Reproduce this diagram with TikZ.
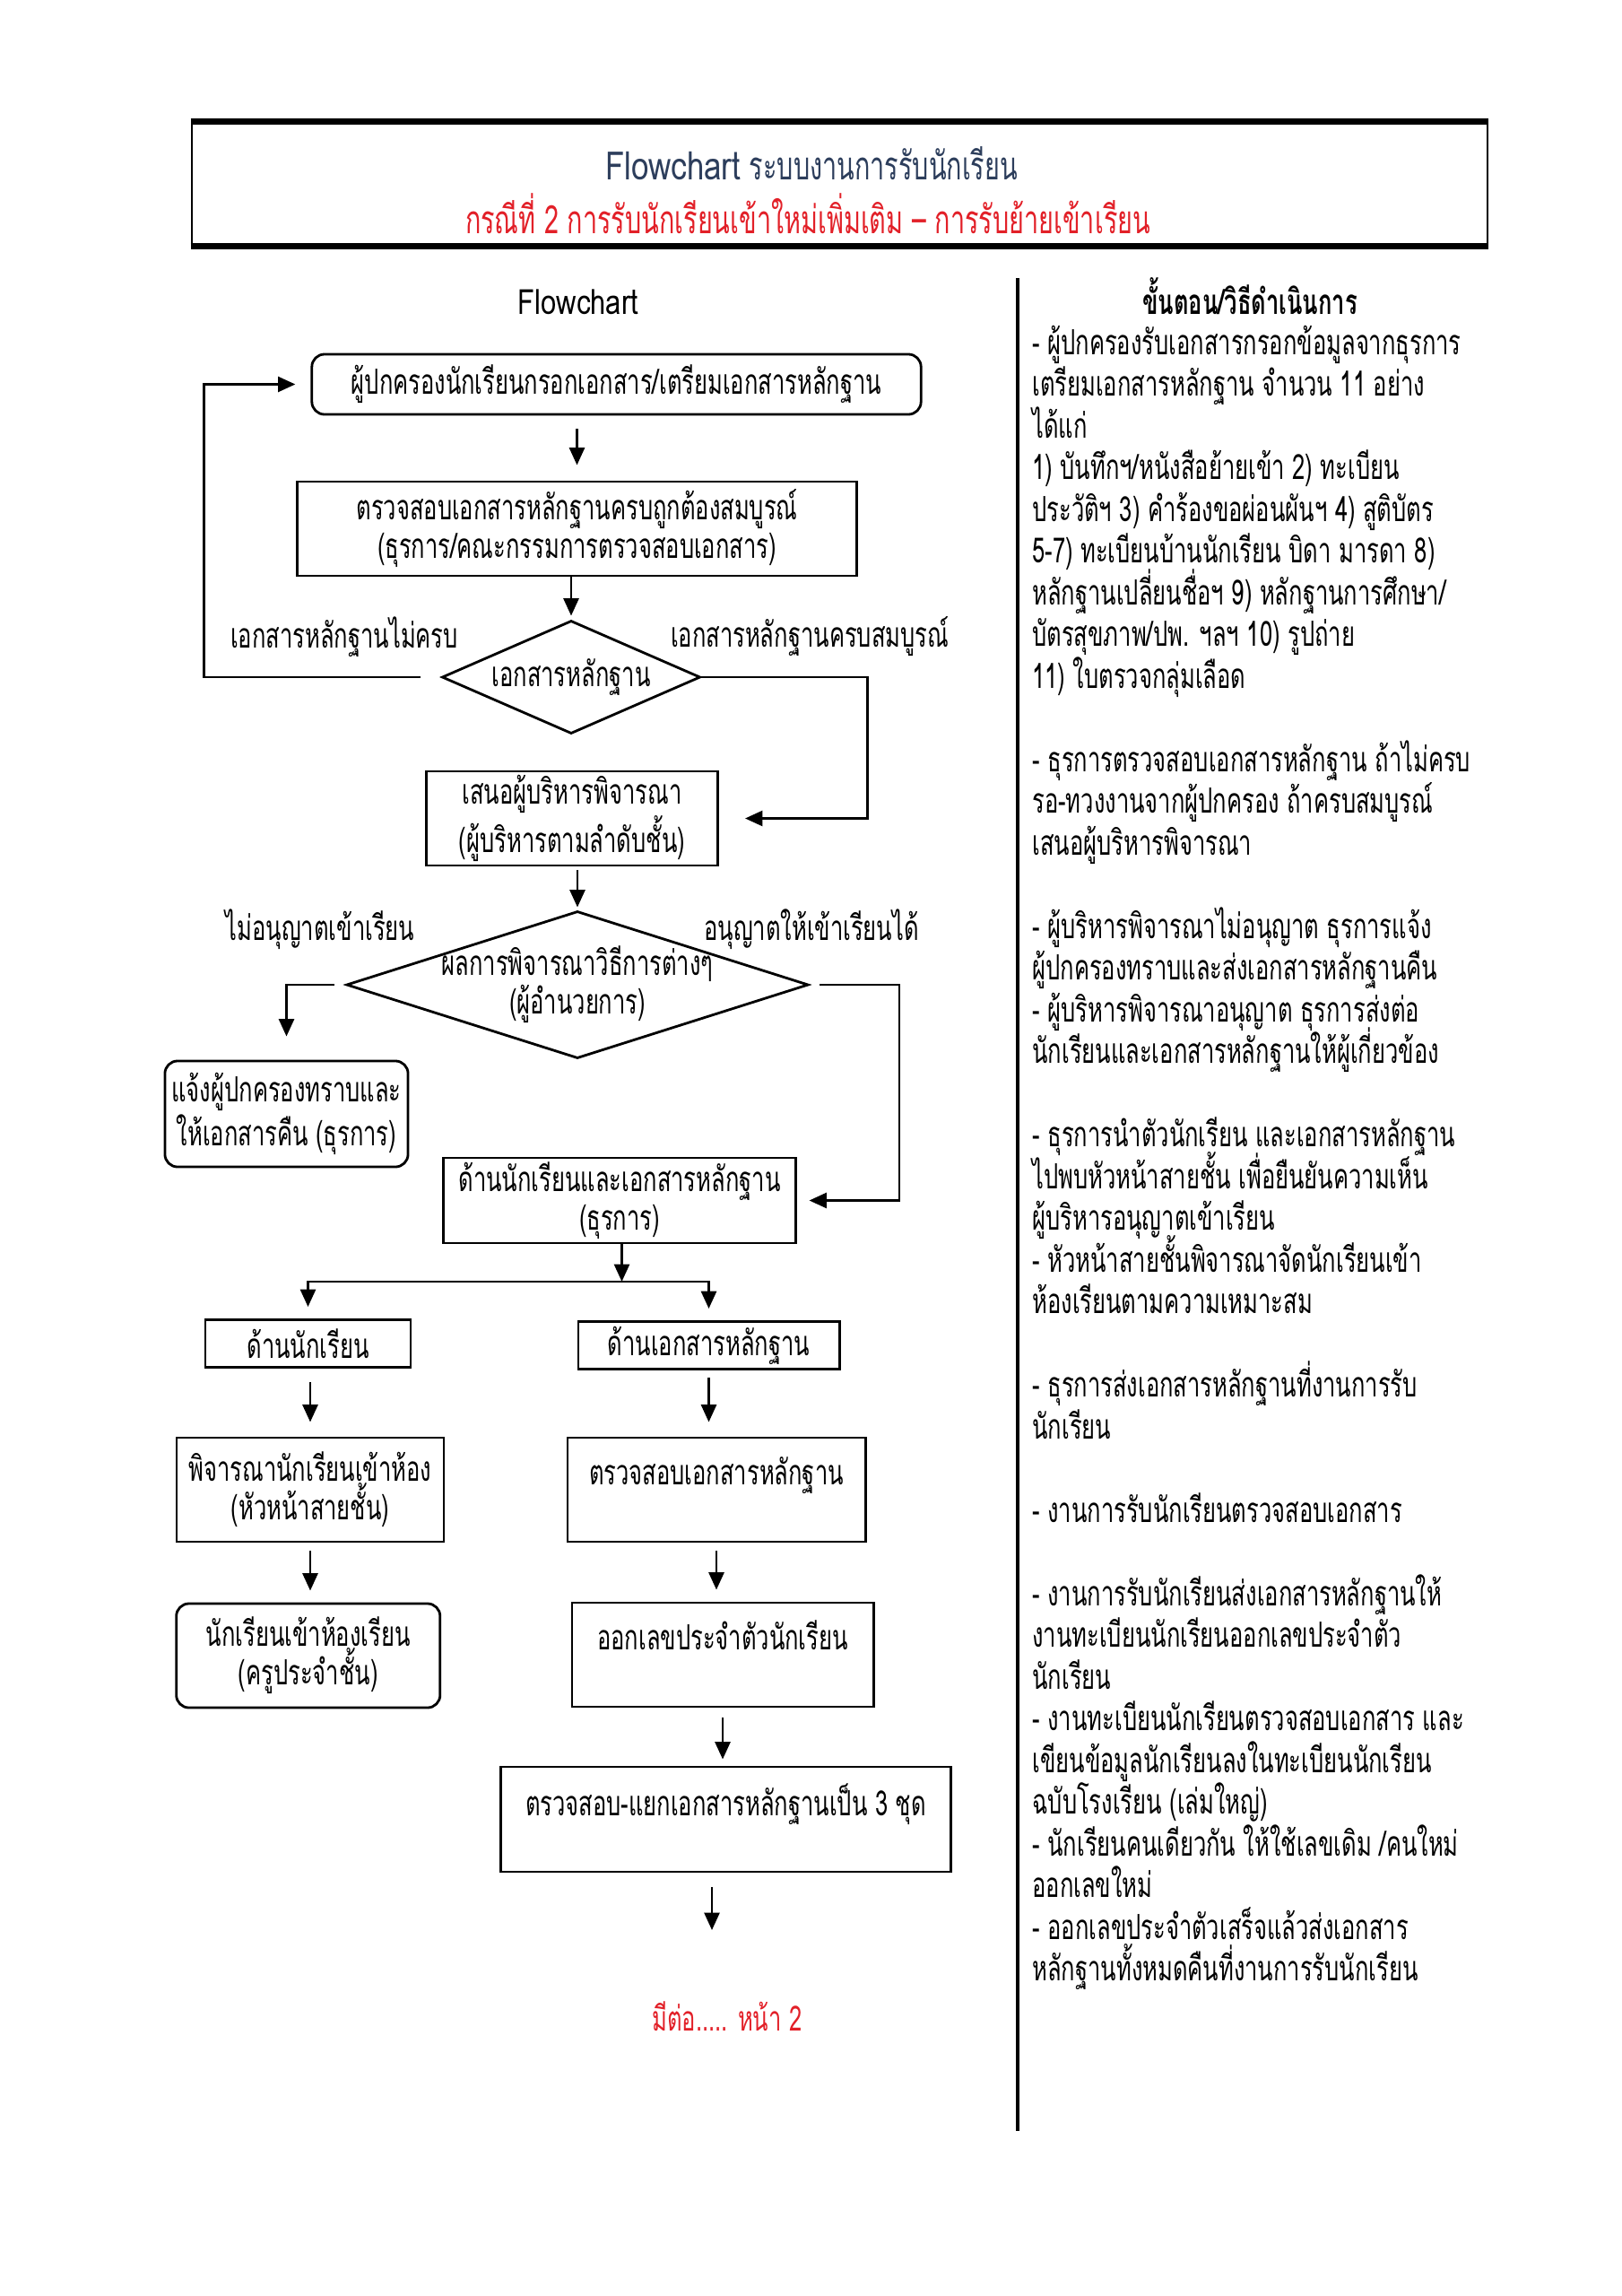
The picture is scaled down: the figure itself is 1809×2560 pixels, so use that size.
\documentclass[tikz,border=0pt]{standalone}
\usepackage{fontspec}
\setmainfont{Loma}[Script=Thai,FakeStretch=0.66]
\newfontfamily\latinfont{Loma}[FakeStretch=0.8]
\usetikzlibrary{arrows.meta,shapes.geometric}
\definecolor{headblue}{RGB}{45,62,92}
\definecolor{headred}{RGB}{226,32,40}

\begin{document}
\begin{tikzpicture}[x=0.01cm,y=-0.01cm,line width=0.8pt,
  >={Triangle[length=5.5pt,width=4.8pt]},
  every node/.style={font=\fontsize{11}{12.2}\selectfont},
  box/.style={draw,rectangle,align=center,inner sep=0pt},
  rbox/.style={box,rounded corners=4pt},
  dec/.style={draw,diamond,align=center,inner sep=0pt},
  note/.style={anchor=base west,inner sep=0pt,font=\fontsize{11}{13}\selectfont}]

\useasboundingbox (0,0) rectangle (1809,2560);

% header
\node[draw,line width=0.6pt,minimum width=14.45cm,minimum height=1.36cm] (hdr) at (936.5,205) {};
\draw[line width=2pt] (hdr.north west) -- (hdr.north east);
\draw[line width=2pt] (hdr.south west) -- (hdr.south east);
\node[headblue,font=\fontsize{12.4}{14}\selectfont] (ttl) at (905,182) {{\latinfont Flowchart} ระบบงานการรับนักเรียน};
\node[headred,font=\fontsize{12.4}{14}\selectfont] (sub) at (901,238) {กรณีที่ 2 การรับนักเรียนเข้าใหม่เพิ่มเติม -- การรับย้ายเข้าเรียน};

\node (fc) at (645,337) {\latinfont Flowchart};
\node[font=\fontsize{11}{13}\bfseries] (steps) at (1394,330) {ขั้นตอน/วิธีดำเนินการ};
\draw[line width=1pt] (1135,310) -- (1135,2376);

% flowchart boxes
\node[rbox,minimum width=6.79cm,minimum height=0.67cm] (parent) at (687.5,428.5) {ผู้ปกครองนักเรียนกรอกเอกสาร/เตรียมเอกสารหลักฐาน};
\node[box,minimum width=6.23cm,minimum height=1.05cm] (check) at (643.5,589.5) {ตรวจสอบเอกสารหลักฐานครบถูกต้องสมบูรณ์\\(ธุรการ/คณะกรรมการตรวจสอบเอกสาร)};
\node[dec,aspect=2.29,minimum width=2.88cm,minimum height=1.26cm] (docs) at (637,755) {เอกสารหลักฐาน};
\node[box,minimum width=3.25cm,minimum height=1.05cm] (propose) at (638,912.5) {เสนอผู้บริหารพิจารณา\\(ผู้บริหารตามลำดับชั้น)};
\node[dec,aspect=3.14,inner sep=-2.3pt,minimum width=5.15cm,minimum height=1.64cm] (result) at (644,1098) {ผลการพิจารณาวิธีการต่างๆ\\(ผู้อำนวยการ)};
\node[rbox,minimum width=2.71cm,minimum height=1.18cm] (inform) at (319.5,1242) {แจ้งผู้ปกครองทราบและ\\ให้เอกสารคืน (ธุรการ)};
\node[box,minimum width=3.92cm,minimum height=0.95cm] (both) at (691,1338.5) {ด้านนักเรียนและเอกสารหลักฐาน\\(ธุรการ)};
\node[box,minimum width=2.29cm,minimum height=0.53cm] (student) at (343.5,1498) {ด้านนักเรียน};
\node[box,minimum width=2.91cm,minimum height=0.53cm] (docside) at (790.5,1500) {ด้านเอกสารหลักฐาน};
\node[box,minimum width=2.98cm,minimum height=1.16cm] (assign) at (346,1661) {พิจารณานักเรียนเข้าห้อง\\(หัวหน้าสายชั้น)};
\node[box,minimum width=3.32cm,minimum height=1.16cm] (verify) at (799,1661) {ตรวจสอบเอกสารหลักฐาน\\\mbox{}};
\node[rbox,minimum width=2.94cm,minimum height=1.16cm] (enter) at (343.75,1846) {นักเรียนเข้าห้องเรียน\\(ครูประจำชั้น)};
\node[box,minimum width=3.36cm,minimum height=1.16cm] (issue) at (806,1845) {ออกเลขประจำตัวนักเรียน\\\mbox{}};
\node[box,minimum width=5.01cm,minimum height=1.17cm] (split) at (809.5,2028.5) {ตรวจสอบ-แยกเอกสารหลักฐานเป็น 3 ชุด\\\mbox{}};
\coordinate (more) at (794,2152);
\node[headred] (next) at (811,2248) {มีต่อ..... หน้า 2};

% branch labels
\node (lack) at (384,710) {เอกสารหลักฐานไม่ครบ};
\node (full) at (903,710) {เอกสารหลักฐานครบสมบูรณ์};
\node (deny) at (357,1036) {ไม่อนุญาตเข้าเรียน};
\node (allow) at (905,1036) {อนุญาตให้เข้าเรียนได้};

% connectors
\draw[->,shorten <=1.5mm,shorten >=1.7mm] (parent.south -| check.north) -- (check.north);
\draw[->,shorten >=0.4mm] (check.south -| docs.north) -- (docs.north);
\draw[->,shorten <=2.3mm,shorten >=1.7mm] (docs.west) -- ++(-264,0) |- (parent.west);
\draw[->,shorten >=2.9mm] (docs.east) -- ++(185,0) |- (propose.east);
\draw[->,shorten <=0.4mm,shorten >=0.3mm] (propose.south -| result.north) -- (result.north);
\draw[->,shorten <=1.2mm,shorten >=2.6mm] (result.west) -| (inform.north);
\draw[->,shorten <=1.1mm,shorten >=1.4mm] (result.east) -- ++(100,0) |- (both.east);
\coordinate (fork) at (693.5,1429);
\draw[->] (both.south -| fork) -- (fork);
\draw[->,shorten >=1.3mm] (fork) -| (student);
\draw[->,shorten >=1.3mm] (fork) -| (docside);
\draw[->,shorten <=1.5mm,shorten >=1.6mm] (student.south -| assign.north) -- (assign.north);
\draw[->,shorten <=0.8mm,shorten >=1.6mm] (docside.south) -- (docside.south |- verify.north);
\draw[->,shorten <=0.9mm,shorten >=1.3mm] (assign.south) -- (assign.south |- enter.north);
\draw[->,shorten <=0.9mm,shorten >=1.3mm] (verify.south) -- (verify.south |- issue.north);
\draw[->,shorten <=1.1mm,shorten >=0.7mm] (issue.south) -- (issue.south |- split.north);
\draw[->,shorten <=1.6mm] (split.south -| more) -- (more);

% steps column
\foreach \k/\t in {0/{- ผู้ปกครองรับเอกสารกรอกข้อมูลจากธุรการ},
  1/{เตรียมเอกสารหลักฐาน จำนวน 11 อย่าง},
  2/{ได้แก่},
  3/{1) บันทึกฯ/หนังสือย้ายเข้า 2) ทะเบียน},
  4/{ประวัติฯ 3) คำร้องขอผ่อนผันฯ 4) สูติบัตร},
  5/{5-7) ทะเบียนบ้านนักเรียน บิดา มารดา 8)},
  6/{หลักฐานเปลี่ยนชื่อฯ 9) หลักฐานการศึกษา/},
  7/{บัตรสุขภาพ/ปพ. ฯลฯ 10) รูปถ่าย},
  8/{11) ใบตรวจกลุ่มเลือด},
  10/{- ธุรการตรวจสอบเอกสารหลักฐาน ถ้าไม่ครบ},
  11/{รอ-ทวงงานจากผู้ปกครอง ถ้าครบสมบูรณ์},
  12/{เสนอผู้บริหารพิจารณา},
  14/{- ผู้บริหารพิจารณาไม่อนุญาต ธุรการแจ้ง},
  15/{ผู้ปกครองทราบและส่งเอกสารหลักฐานคืน},
  16/{- ผู้บริหารพิจารณาอนุญาต ธุรการส่งต่อ},
  17/{นักเรียนและเอกสารหลักฐานให้ผู้เกี่ยวข้อง},
  19/{- ธุรการนำตัวนักเรียน และเอกสารหลักฐาน},
  20/{ไปพบหัวหน้าสายชั้น เพื่อยืนยันความเห็น},
  21/{ผู้บริหารอนุญาตเข้าเรียน},
  22/{- หัวหน้าสายชั้นพิจารณาจัดนักเรียนเข้า},
  23/{ห้องเรียนตามความเหมาะสม},
  25/{- ธุรการส่งเอกสารหลักฐานที่งานการรับ},
  26/{นักเรียน},
  28/{- งานการรับนักเรียนตรวจสอบเอกสาร},
  30/{- งานการรับนักเรียนส่งเอกสารหลักฐานให้},
  31/{งานทะเบียนนักเรียนออกเลขประจำตัว},
  32/{นักเรียน},
  33/{- งานทะเบียนนักเรียนตรวจสอบเอกสาร และ},
  34/{เขียนข้อมูลนักเรียนลงในทะเบียนนักเรียน},
  35/{ฉบับโรงเรียน (เล่มใหญ่)},
  36/{- นักเรียนคนเดียวกัน ให้ใช้เลขเดิม /คนใหม่},
  37/{ออกเลขใหม่},
  38/{- ออกเลขประจำตัวเสร็จแล้วส่งเอกสาร},
  39/{หลักฐานทั้งหมดคืนที่งานการรับนักเรียน}}
  \node[note] (ln\k) at (1150,395+46.5*\k) {\t};

\end{tikzpicture}
\end{document}
